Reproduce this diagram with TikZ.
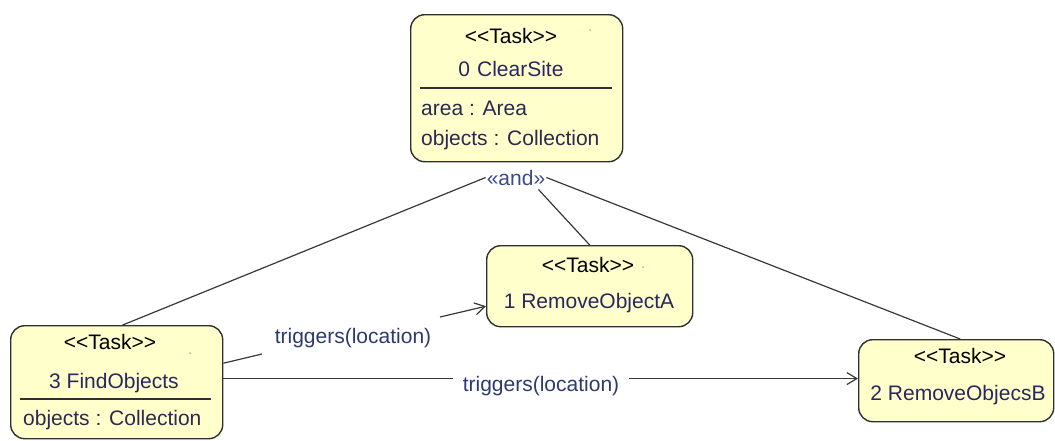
\documentclass[tikz,border=0pt]{standalone}
\usepackage{fontspec}
\setmainfont{Liberation Sans}[Ligatures=TeXOff]
\usetikzlibrary{arrows.meta,calc}
\definecolor{taskfill}{HTML}{FFFFCC}
\definecolor{taskline}{HTML}{303030}
\definecolor{nametext}{HTML}{2A2660}
\definecolor{attrtext}{HTML}{2C2850}
\definecolor{labeltext}{HTML}{2C3A6E}
\definecolor{andtext}{HTML}{3B4A8C}
\definecolor{wireline}{HTML}{383838}
\definecolor{speck}{HTML}{F0A060}
\begin{document}
\begin{tikzpicture}[x=1pt,y=-1pt,
  task/.style={draw=taskline, line width=1.4pt, fill=taskfill, rounded corners=14pt,
    anchor=north west, inner sep=0pt},
  txt/.style={inner sep=0pt, font=\fontsize{21}{25}\selectfont},
  stereo/.style={txt, anchor=base, text=black},
  tname/.style={txt, anchor=base, text=nametext},
  attr/.style={txt, anchor=base west, text=attrtext},
  divider/.style={draw=taskline, line width=1.4pt},
  wire/.style={draw=wireline, line width=1.2pt},
  flow/.style={wire, -{Straight Barb[length=10pt,width=12pt,line width=1.2pt]}},
  lbl/.style={txt, anchor=base, text=labeltext},
  dot/.style={fill=speck, draw=none}]
\useasboundingbox (0,0) rectangle (1055,440);

% task boxes
\node[task, minimum width=212pt, minimum height=147pt] (b0) at (410,14) {};
\node[task, minimum width=206pt, minimum height=81pt]  (b1) at (486,245) {};
\node[task, minimum width=195pt, minimum height=82pt]  (b2) at (858,339) {};
\node[task, minimum width=212pt, minimum height=113pt] (b3) at (10,325) {};

% 0 ClearSite
\node[stereo] (b0s) at (511,43) {<<Task>>};
\node[tname]  (b0n) at (511,76) {0\,\,ClearSite};
\draw[divider] (420,88) -- (612,88);
\node[attr] (b0a1) at (421,115) {area : Area};
\node[attr] (b0a2) at (421,145) {objects : Collection};
\fill[dot] (590,30) circle (1pt);

% 1 RemoveObjectA
\node[stereo] (b1s) at (588,272) {<<Task>>};
\node[tname]  (b1n) at (589,308) {1 RemoveObjectA};
\fill[dot] (643,267) circle (1pt);

% 2 RemoveObjecsB
\node[stereo] (b2s) at (960,363) {<<Task>>};
\node[tname]  (b2n) at (958,400) {2 RemoveObjecsB};

% 3 FindObjects
\node[stereo] (b3s) at (110,349) {<<Task>>};
\node[tname]  (b3n) at (114,388) {3 FindObjects};
\draw[divider] (20,399) -- (211,399);
\node[attr] (b3a1) at (23,425) {objects : Collection};
\fill[dot] (190,353) circle (1pt);

% and-decomposition of ClearSite
\node[txt, anchor=base, text=andtext, inner xsep=1pt] (andlbl) at (516,185) {«and»};
\draw[wire] (andlbl.west) -- ($(b3.north)+(6,0)$);
\draw[wire] (andlbl.east) -- ($(b2.north)+(4,0)$);
\draw[wire] ($(andlbl.south east)+(-8,4)$) -- (b1.north);

% triggers FindObjects -> RemoveObjectA
\coordinate (g1) at (262,354);
\coordinate (g2) at (440,317);
\node[lbl] (t1) at (353,343) {triggers(location)};
\draw[wire] ($(b3.east)+(0,-19)$) -- (g1);
\draw[flow] (g2) -- ($(b1.west)+(0,20)$);

% triggers FindObjects -> RemoveObjecsB
\node[lbl, inner xsep=10pt] (t2) at (541,391) {triggers(location)};
\coordinate (g3) at ($(t2.west)+(0,-7)$);
\coordinate (g4) at ($(t2.east)+(0,-7)$);
\draw[wire] (b3.east |- g3) -- (g3);
\draw[flow] (g4) -- (g4 -| b2.west);
\end{tikzpicture}
\end{document}
